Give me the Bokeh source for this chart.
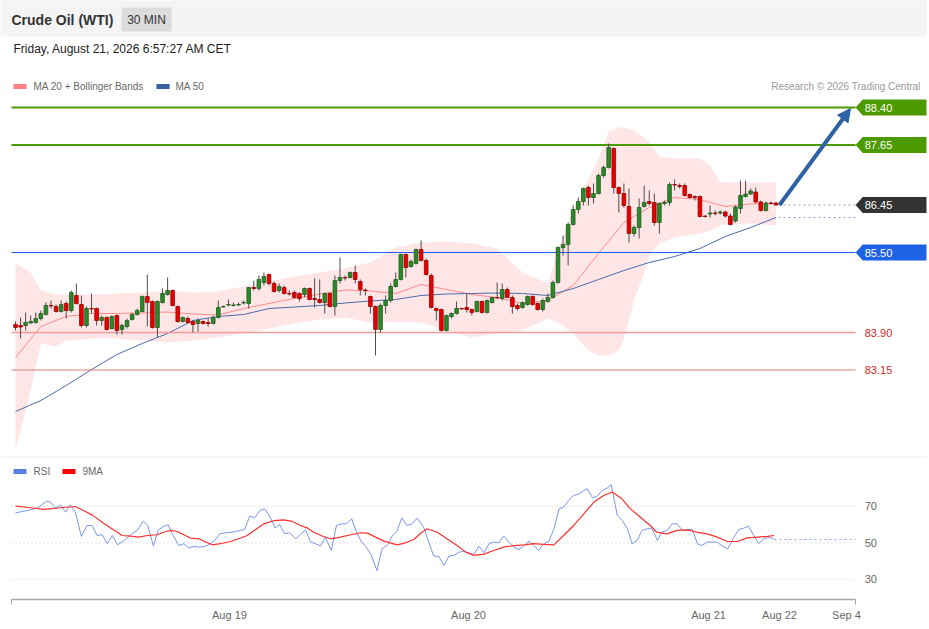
from bokeh.plotting import figure
from bokeh.layouts import column
from bokeh.models import Range1d, ColumnDataSource, FixedTicker, Arrow, NormalHead, Span
from bokeh.core.properties import value
from bokeh.embed import file_html
from bokeh.resources import INLINE

# ---------------- texts ----------------
title_text = "Crude Oil (WTI)"
interval_text = "30 MIN"
date_text = "Friday, August 21, 2026 6:57:27 AM CET"
credit_text = "Research \u00a9 2026 Trading Central"
legend_price = ["MA 20 + Bollinger Bands", "MA 50"]
legend_rsi = ["RSI", "9MA"]

# ---------------- candles (30 min) ----------------
opens = [84.06, 84.04, 84.04, 84.09, 84.10, 84.18, 84.26, 84.44, 84.42, 84.32,
         84.48, 84.34, 84.64, 84.46, 84.04, 84.38, 84.38, 84.14, 84.20, 83.98,
         84.24, 83.96, 84.02, 84.16, 84.26, 84.32, 84.62, 84.52, 84.00, 84.50,
         84.66, 84.74, 84.42, 84.12, 84.18, 84.12, 84.08, 84.12, 84.10, 84.08,
         84.20, 84.41, 84.45, 84.44, 84.45, 84.49, 84.48, 84.80, 84.78, 84.90,
         85.06, 84.88, 84.74, 84.80, 84.68, 84.70, 84.68, 84.66, 84.78, 84.58,
         84.56, 84.50, 84.68, 84.42, 84.94, 85.00, 85.00, 85.10, 84.92, 84.75,
         84.62, 84.42, 83.96, 84.44, 84.54, 84.82, 84.96, 85.46, 85.22, 85.28,
         85.56, 85.34, 85.04, 84.38, 84.36, 83.94, 84.22, 84.28, 84.38, 84.40,
         84.36, 84.32, 84.52, 84.30, 84.50, 84.60, 84.58, 84.76, 84.60, 84.44,
         84.40, 84.46, 84.62, 84.48, 84.36, 84.52, 84.60, 84.90, 85.60, 85.66,
         86.06, 86.36, 86.52, 86.80, 86.60, 86.68, 87.04, 87.20, 87.58, 86.80,
         86.68, 86.42, 85.88, 86.00, 86.42, 86.52, 86.50, 86.10, 86.48, 86.50,
         86.86, 86.84, 86.84, 86.66, 86.62, 86.62, 86.23, 86.27, 86.29, 86.29,
         86.31, 86.23, 86.13, 86.38, 86.62, 86.67, 86.71, 86.51, 86.34, 86.49,
         86.49]
highs = [84.12, 84.20, 84.30, 84.24, 84.30, 84.34, 84.50, 84.54, 84.46, 84.54,
         84.52, 84.74, 84.88, 84.64, 84.42, 84.68, 84.40, 84.24, 84.22, 84.24,
         84.26, 84.08, 84.18, 84.30, 84.38, 84.64, 85.06, 84.54, 84.54, 84.78,
         85.00, 84.76, 84.44, 84.22, 84.22, 84.14, 84.18, 84.14, 84.18, 84.24,
         84.54, 84.44, 84.56, 84.50, 84.50, 84.54, 84.80, 84.94, 85.04, 85.10,
         85.08, 84.92, 84.88, 84.84, 84.74, 84.74, 84.70, 84.80, 84.80, 84.98,
         84.96, 84.70, 84.70, 85.04, 85.40, 85.04, 85.12, 85.24, 84.96, 84.78,
         84.64, 84.44, 84.48, 84.64, 84.88, 85.10, 85.48, 85.48, 85.36, 85.58,
         85.74, 85.38, 85.08, 84.40, 84.38, 84.26, 84.30, 84.52, 84.40, 84.68,
         84.38, 84.54, 84.54, 84.56, 84.60, 84.90, 84.88, 84.80, 84.64, 84.48,
         84.52, 84.64, 84.64, 84.50, 84.58, 84.68, 84.94, 85.62, 85.84, 86.10,
         86.44, 86.60, 86.80, 86.84, 86.88, 87.08, 87.24, 87.68, 87.60, 86.82,
         86.88, 86.78, 86.04, 86.58, 86.84, 86.74, 86.68, 86.50, 86.54, 86.90,
         86.96, 86.88, 86.88, 86.68, 86.64, 86.64, 86.24, 86.44, 86.34, 86.34,
         86.34, 86.28, 86.44, 86.94, 86.94, 86.78, 86.80, 86.54, 86.52, 86.52,
         86.51]
lows = [83.94, 83.78, 83.94, 84.08, 84.08, 84.14, 84.24, 84.38, 84.30, 84.30,
        84.18, 84.30, 84.46, 84.00, 84.00, 84.28, 84.04, 84.04, 83.94, 83.96,
        83.86, 83.86, 83.98, 84.14, 84.24, 84.30, 84.02, 83.98, 83.80, 84.48,
        84.64, 84.42, 84.10, 84.10, 84.08, 83.90, 83.92, 84.06, 84.02, 84.06,
        84.18, 84.40, 84.42, 84.42, 84.44, 84.46, 84.38, 84.74, 84.74, 84.84,
        84.84, 84.70, 84.70, 84.66, 84.64, 84.58, 84.52, 84.60, 84.54, 84.40,
        84.48, 84.28, 84.40, 84.24, 84.88, 84.94, 84.98, 84.88, 84.64, 84.64,
        84.28, 83.44, 83.90, 84.28, 84.50, 84.80, 84.94, 85.00, 85.20, 85.26,
        85.32, 85.04, 84.38, 84.14, 83.92, 83.92, 84.18, 84.26, 84.36, 84.30,
        84.24, 84.30, 84.28, 84.28, 84.48, 84.58, 84.54, 84.60, 84.28, 84.34,
        84.38, 84.44, 84.44, 84.34, 84.32, 84.50, 84.58, 84.88, 85.44, 85.24,
        86.04, 86.28, 86.44, 86.44, 86.48, 86.66, 87.00, 87.18, 86.68, 86.30,
        86.40, 85.70, 85.82, 85.78, 86.40, 86.44, 86.04, 85.88, 86.44, 86.44,
        86.74, 86.78, 86.62, 86.58, 86.54, 86.20, 86.20, 86.20, 86.24, 86.26,
        86.20, 86.04, 86.10, 86.28, 86.60, 86.66, 86.48, 86.32, 86.32, 86.46,
        86.44]
closes = [84.00, 84.01, 84.10, 84.12, 84.18, 84.28, 84.44, 84.43, 84.32, 84.46,
          84.34, 84.70, 84.48, 84.04, 84.38, 84.37, 84.14, 84.20, 83.96, 84.22,
          83.94, 84.04, 84.14, 84.26, 84.34, 84.62, 84.50, 84.00, 84.52, 84.68,
          84.74, 84.44, 84.12, 84.20, 84.10, 84.06, 84.14, 84.08, 84.08, 84.20,
          84.40, 84.42, 84.46, 84.45, 84.46, 84.50, 84.80, 84.78, 84.96, 85.02,
          84.88, 84.72, 84.82, 84.68, 84.67, 84.60, 84.58, 84.78, 84.56, 84.56,
          84.50, 84.68, 84.42, 84.94, 85.00, 84.99, 85.10, 84.96, 84.76, 84.74,
          84.42, 83.96, 84.44, 84.54, 84.82, 84.96, 85.46, 85.20, 85.32, 85.56,
          85.34, 85.06, 84.40, 84.34, 83.94, 84.24, 84.28, 84.38, 84.37, 84.36,
          84.30, 84.52, 84.30, 84.54, 84.60, 84.59, 84.76, 84.60, 84.42, 84.38,
          84.50, 84.62, 84.46, 84.36, 84.54, 84.60, 84.90, 85.60, 85.66, 86.06,
          86.36, 86.52, 86.78, 86.60, 86.68, 87.04, 87.20, 87.60, 86.80, 86.68,
          86.44, 85.88, 86.00, 86.40, 86.50, 86.48, 86.10, 86.48, 86.50, 86.86,
          86.85, 86.82, 86.64, 86.60, 86.60, 86.22, 86.22, 86.29, 86.28, 86.31,
          86.23, 86.06, 86.41, 86.64, 86.67, 86.73, 86.51, 86.34, 86.49, 86.48,
          86.45]

# ---------------- moving averages / bands (read every few candles) ----------------
ma_idx = [0, 5, 10, 15, 20, 25, 30, 35, 40, 45, 50, 55, 60, 65, 70, 75, 80, 85,
          90, 95, 100, 105, 110, 115, 120, 125, 130, 135, 140, 145, 150]
ma20 = [83.40, 84.02, 84.22, 84.28, 84.28, 84.29, 84.31, 84.27, 84.25, 84.38,
        84.48, 84.58, 84.67, 84.75, 84.73, 84.68, 84.86, 84.76, 84.66, 84.60,
        84.48, 84.54, 84.84, 85.48, 86.10, 86.40, 86.60, 86.56, 86.42, 86.47, 86.48]
ma50 = [82.32, 82.54, 82.84, 83.16, 83.46, 83.68, 83.88, 84.14, 84.22, 84.26,
        84.38, 84.41, 84.44, 84.49, 84.53, 84.56, 84.64, 84.67, 84.68, 84.69,
        84.68, 84.64, 84.78, 84.96, 85.14, 85.30, 85.42, 85.58, 85.82, 86.00, 86.20]
bb_idx = [0, 3, 5, 8, 10, 15, 20, 25, 30, 35, 40, 45, 50, 55, 60, 65, 70, 75, 80,
          85, 90, 95, 100, 105, 107, 110, 113, 115, 117, 119, 120, 122, 124, 125,
          127, 130, 135, 137, 139, 140, 145, 150]
bb_up = [85.28, 85.10, 84.74, 84.66, 84.66, 84.66, 84.68, 84.70, 84.74, 84.70,
         84.72, 84.82, 84.92, 85.02, 85.10, 85.18, 85.30, 85.60, 85.70, 85.72,
         85.68, 85.58, 85.10, 84.88, 85.54, 86.38, 86.98, 87.38, 87.92, 88.00,
         88.00, 87.94, 87.80, 87.70, 87.42, 87.38, 87.38, 87.24, 86.92, 86.90,
         86.90, 86.90]
bb_lo = [81.54, 82.74, 83.68, 83.62, 83.74, 83.78, 83.78, 83.74, 83.70, 83.74,
         83.80, 83.88, 83.98, 84.08, 84.16, 84.20, 84.10, 84.10, 84.10, 83.94,
         83.80, 83.88, 83.94, 84.18, 84.10, 83.88, 83.54, 83.44, 83.44, 83.54,
         83.78, 84.54, 85.10, 85.44, 85.68, 85.80, 85.88, 85.94, 86.04, 86.06,
         86.08, 86.04]

# ---------------- RSI and its 9-period MA ----------------
rsi_x = [0.0, 2.3, 4.3, 6.1, 6.9, 7.9, 8.9, 9.9, 10.8, 11.8,
         13.0, 14.1, 15.1, 16.1, 17.1, 18.1, 19.1, 20.1, 21.0, 22.0,
         23.0, 24.0, 25.2, 26.1, 27.2, 28.1, 29.1, 30.1, 31.1, 32.2,
         33.2, 34.2, 35.2, 36.3, 37.3, 38.2, 39.3, 40.3, 41.4, 42.4,
         43.4, 44.4, 45.2, 46.2, 47.2, 48.2, 49.2, 50.2, 51.2, 52.1,
         53.1, 54.1, 55.3, 56.2, 57.2, 58.2, 59.2, 60.2, 61.1, 62.3,
         63.3, 64.3, 65.3, 66.3, 67.2, 68.2, 69.2, 70.2, 71.3, 72.3,
         73.3, 74.3, 75.2, 76.2, 77.2, 78.2, 79.2,
         80.5, 81.5, 82.5, 83.5, 84.5, 85.5, 86.5, 87.5, 88.4, 89.4,
         90.4, 91.4, 92.4, 93.4, 94.3, 95.3, 96.3, 97.3, 98.3, 99.3,
         100.3, 101.3, 102.2, 103.2, 104.2, 105.2, 106.2, 107.2, 108.1, 109.1,
         110.1, 111.1, 112.1, 112.8, 113.8, 114.7, 115.7, 116.7, 117.5, 118.7,
         119.7, 120.7, 121.6, 122.6, 123.6, 124.6, 125.6, 126.6, 127.5, 128.5,
         129.5, 130.5, 131.5, 132.5, 133.5, 134.5, 135.4, 136.4, 137.4, 138.4,
         139.4, 140.5, 141.5, 142.7, 143.6, 144.6, 145.6, 146.6, 147.6, 148.8,
         149.7]
rsi_v = [66.4, 67.7, 69.0, 72.8, 72.3, 69.0, 70.8, 66.8, 70.8, 66.8,
         53.5, 59.5, 59.5, 54.0, 54.4, 49.5, 54.0, 48.9, 50.4, 52.6,
         54.9, 56.8, 61.9, 59.5, 48.2, 56.8, 58.9, 59.9, 54.0, 48.5,
         49.5, 47.1, 48.0, 47.6, 48.0, 49.1, 51.3, 54.9, 55.5, 55.8,
         56.2, 56.8, 57.3, 64.6, 63.7, 67.7, 68.6, 64.1, 58.2, 60.0,
         54.9, 55.5, 52.2, 54.6, 57.1, 50.4, 49.5, 48.2, 53.1, 45.8,
         59.5, 60.4, 60.4, 63.2, 56.2, 50.7, 47.6, 43.1, 34.8, 46.7,
         48.5, 53.7, 56.2, 63.7, 59.5, 60.4, 63.5,
         58.6, 50.4, 42.7, 42.5, 37.6, 42.7, 43.1, 44.9, 45.3, 44.5,
         43.6, 48.2, 44.5, 49.5, 50.4, 50.0, 53.7, 50.4, 47.6, 46.3,
         48.5, 50.9, 48.5, 45.8, 49.5, 50.7, 57.7, 68.6, 69.5, 73.2,
         75.9, 76.8, 78.7, 79.6, 74.7, 75.4, 78.7, 80.0, 81.8, 65.0,
         62.2, 57.7, 49.5, 51.3, 56.8, 57.7, 57.7, 51.3, 55.8, 56.8,
         60.4, 60.4, 56.8, 57.3, 57.3, 49.5, 48.5, 50.4, 50.4, 50.4,
         48.2, 46.7, 52.2, 57.3, 58.0, 59.1, 54.0, 49.5, 52.2, 53.1,
         51.8]
ma9_x = [0.0, 3.0, 5.6, 8.9, 11.8, 13.1, 15.1, 17.1, 18.7, 20.1,
         21.0, 22.7, 24.3, 26.0, 27.9, 29.2, 30.6, 31.9, 33.2, 34.5,
         36.2, 37.5, 38.8, 40.4, 42.4, 44.4, 45.7, 47.3, 49.0, 51.0,
         52.9, 54.6, 56.2, 57.5, 58.8, 60.5, 62.1, 64.1, 66.1, 68.1,
         69.4, 71.0, 72.7, 74.0, 75.3, 76.9, 78.6, 79.9, 81.2, 83.2,
         85.1, 87.1, 88.8, 90.4, 92.4, 94.3, 96.3, 98.3, 100.3, 102.2,
         104.2, 106.2, 108.1, 110.1, 112.1, 114.1, 116.0, 117.7, 119.6, 121.3,
         123.2, 125.2, 126.5, 128.5, 130.5, 132.5, 134.4, 136.4, 138.4, 140.4,
         142.4, 144.3, 146.3, 148.3, 149.6]
ma9_v = [70.1, 69.2, 68.3, 69.2, 69.9, 68.1, 65.3, 61.3, 58.2, 55.8,
         54.0, 53.7, 53.1, 54.0, 54.4, 55.8, 56.8, 56.2, 54.4, 52.6,
         52.2, 50.4, 48.9, 49.5, 50.7, 52.6, 54.0, 57.1, 60.4, 62.2,
         62.6, 61.7, 59.5, 58.2, 55.8, 53.7, 52.2, 53.1, 54.4, 55.5,
         55.3, 53.1, 50.9, 49.8, 48.9, 50.0, 51.8, 55.2, 57.7, 55.8,
         52.2, 48.5, 44.9, 43.1, 43.8, 45.8, 47.6, 48.5, 48.9, 49.5,
         49.1, 48.9, 54.0, 59.5, 65.9, 72.3, 75.9, 77.8, 74.1, 68.6,
         64.1, 59.5, 55.8, 54.9, 56.8, 57.1, 55.8, 54.9, 53.1, 50.7,
         50.7, 52.7, 53.1, 53.5, 54.0]

# ---------------- key levels / axis ----------------
level_values = [88.40, 87.65, 85.50, 83.90, 83.15]
tag_levels = [88.40, 87.65, 86.45, 85.50]
red_levels = [83.90, 83.15]
target_level = 88.40
rsi_levels = [70, 50, 30]
tick_pos = [42.2, 89.35, 136.7, 150.7, 163.9]
tick_labels = ["Aug 19", "Aug 20", "Aug 21", "Aug 22", "Sep 4"]

# ---------------- styling ----------------
FONT = value("Liberation Sans")
GREEN_LVL = "#4c9a00"
BLUE_LVL = "#1e5ef0"
ARROW_C = "#2f62a3"
X_RANGE = Range1d(-2.959, 179.882)
AX0, AX1 = -0.79, 165.7
LAB_X = 167.5
TAG_SHOULDER = 167.1
TAG_END = 179.68
TAG_HALF = 0.16

# ======================= price panel =======================
p = figure(width=927, height=456, x_range=X_RANGE, y_range=Range1d(81.42, 90.54),
           output_backend="svg", toolbar_location=None, x_axis_location=None,
           y_axis_location=None, min_border=0, title=None, outline_line_color=None,
           background_fill_color="white", border_fill_color="white")
p.grid.visible = False

# header band, badge
p.quad(left=[X_RANGE.start], right=[X_RANGE.end], top=[90.6], bottom=[89.82],
       fill_color="#f4f4f4", line_color=None)
p.quad(left=[20.91], right=[30.77], top=[90.40], bottom=[89.92],
       fill_color="#dcdcdc", line_color=None)
p.text(x=[-0.79], y=[90.16], text=[title_text], text_font=FONT, text_font_size="14px",
       text_font_style="bold", text_color="#333333", text_align="left", text_baseline="middle")
p.text(x=[25.84], y=[90.16], text=[interval_text], text_font=FONT, text_font_size="12px",
       text_color="#333333", text_align="center", text_baseline="middle")
p.text(x=[-0.39], y=[89.58], text=[date_text], text_font=FONT, text_font_size="12px",
       text_color="#222222", text_align="left", text_baseline="middle")

# legend
p.quad(left=[-0.39, 27.8], right=[2.17, 30.4], top=[88.87, 88.87], bottom=[88.77, 88.77],
       fill_color=["#ff8080", "#3a5f9f"], line_color=None)
p.text(x=[3.55, 31.56], y=[88.82, 88.82], text=legend_price, text_font=FONT,
       text_font_size="10px", text_color="#6a6a6a", text_align="left", text_baseline="middle")
p.text(x=[178.5], y=[88.82], text=[credit_text], text_font=FONT, text_font_size="10px",
       text_color="#9a9a9a", text_align="right", text_baseline="middle")

# bollinger band + averages
p.varea(x=bb_idx, y1=bb_lo, y2=bb_up, fill_color="#ffe3e3", fill_alpha=0.9)
p.line(ma_idx, ma20, line_color="#ff8a8a", line_width=1)
p.line(ma_idx, ma50, line_color="#4a6aa8", line_width=1)

# key levels
p.segment(x0=[AX0] * 5, x1=[AX1] * 5, y0=level_values, y1=level_values,
          line_color=[GREEN_LVL, GREEN_LVL, BLUE_LVL, "#f59a9a", "#d98080"],
          line_width=[2, 2, 1.2, 1.5, 1])

# candles
idx = list(range(len(closes)))
up = [c >= o for o, c in zip(opens, closes)]
src = ColumnDataSource(dict(
    x=idx, h=highs, l=lows,
    top=[max(o, c) for o, c in zip(opens, closes)],
    bottom=[min(o, c) for o, c in zip(opens, closes)],
    fill=["#2a8a2a" if u else "#e60000" for u in up],
    edge=["#1d5e1d" if u else "#9a0000" for u in up],
))
p.segment(x0="x", y0="h", x1="x", y1="l", source=src, line_color="#4d4d4d", line_width=1)
p.vbar(x="x", width=0.72, top="top", bottom="bottom", fill_color="fill",
       line_color="edge", line_width=0.8, source=src)

# projections
last = len(closes) - 1
p.segment(x0=[last + 0.5], x1=[AX1], y0=[closes[-1]], y1=[closes[-1]],
          line_color="#a0a0a0", line_dash="2 3", line_width=1)
p.segment(x0=[last + 0.5], x1=[AX1], y0=[ma50[-1]], y1=[ma50[-1]],
          line_color="#8fa0d0", line_dash="2 3", line_width=1)
p.add_layout(Arrow(end=NormalHead(size=13, fill_color=ARROW_C, line_color=ARROW_C),
                   x_start=last + 0.7, y_start=closes[-1], x_end=164.7, y_end=target_level - 0.02,
                   line_color=ARROW_C, line_width=4))

# right tags
tag_colors = [GREEN_LVL, GREEN_LVL, "#333333", "#1f62e6"]
xs, ys = [], []
for lv in tag_levels:
    xs.append([AX1, TAG_SHOULDER, TAG_END, TAG_END, TAG_SHOULDER])
    ys.append([lv, lv + TAG_HALF, lv + TAG_HALF, lv - TAG_HALF, lv - TAG_HALF])
p.patches(xs, ys, fill_color=tag_colors, line_color=None)
p.text(x=[LAB_X] * len(tag_levels), y=tag_levels, text=[f"{v:.2f}" for v in tag_levels],
       text_font=FONT, text_font_size="11px", text_color="white",
       text_align="left", text_baseline="middle")
p.text(x=[LAB_X] * len(red_levels), y=red_levels, text=[f"{v:.2f}" for v in red_levels],
       text_font=FONT, text_font_size="11px", text_color="#e02424",
       text_align="left", text_baseline="middle")

# ======================= RSI panel =======================
q = figure(width=927, height=171, x_range=X_RANGE, y_range=Range1d(18.93, 97.29),
           output_backend="svg", toolbar_location=None, y_axis_location=None,
           min_border=0, min_border_bottom=28, title=None, outline_line_color=None,
           background_fill_color="white", border_fill_color="white")
q.grid.visible = False
q.add_layout(Span(location=97.0, dimension="width", line_color="#e6e6e6", line_width=1))

q.segment(x0=[AX0] * 3, x1=[AX1] * 3, y0=rsi_levels, y1=rsi_levels,
          line_color="#c4c4c4", line_dash="1 3", line_width=1)
q.text(x=[LAB_X] * 3, y=rsi_levels, text=[str(v) for v in rsi_levels], text_font=FONT,
       text_font_size="11px", text_color="#666666", text_align="left", text_baseline="middle")

q.quad(left=[-0.39, 9.27], right=[2.17, 11.83], top=[90.4, 90.4], bottom=[87.7, 87.7],
       fill_color=["#5b7fe0", "#ff0000"], line_color=None)
q.text(x=[3.55, 13.21], y=[89.07, 89.07], text=legend_rsi, text_font=FONT,
       text_font_size="10px", text_color="#6a6a6a", text_align="left", text_baseline="middle")

q.line(rsi_x, rsi_v, line_color="#7b96ea", line_width=1)
q.line(ma9_x, ma9_v, line_color="#ff3030", line_width=1.2)
q.segment(x0=[rsi_x[-1]], x1=[AX1], y0=[rsi_v[-1]], y1=[rsi_v[-1]],
          line_color="#8fa6ee", line_dash="2 3", line_width=1)

ax = q.xaxis[0]
ax.ticker = FixedTicker(ticks=tick_pos, minor_ticks=[AX0 + 0.01, AX1 - 0.01])
ax.major_label_overrides = dict(zip(tick_pos, tick_labels))
ax.bounds = (AX0, AX1)
ax.axis_line_color = "#a8a8a8"
ax.axis_line_width = 1.5
ax.major_tick_line_color = None
ax.major_tick_in = 0
ax.major_tick_out = 0
ax.minor_tick_line_color = "#a8a8a8"
ax.minor_tick_in = 0
ax.minor_tick_out = 5
ax.major_label_standoff = 4
ax.major_label_text_font = "Liberation Sans"
ax.major_label_text_font_size = "11px"
ax.major_label_text_color = "#666666"

layout = column(p, q)
open("out.html", "w").write(file_html(layout, INLINE))
